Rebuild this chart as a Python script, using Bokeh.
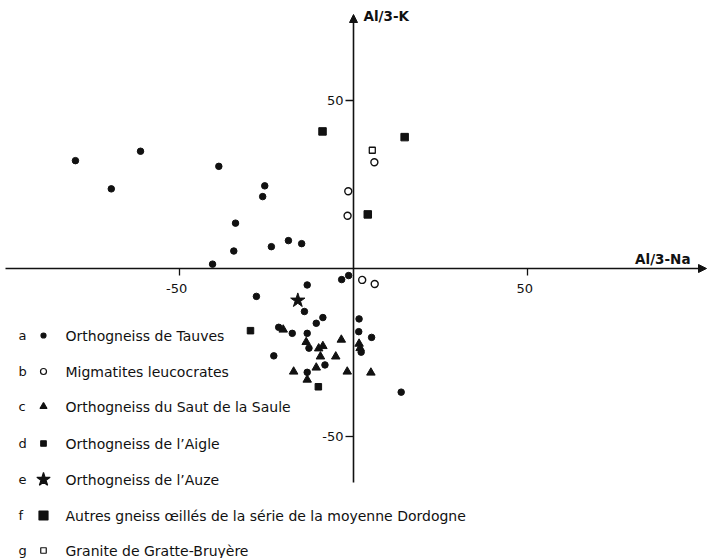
from bokeh.plotting import figure
from bokeh.models import Range1d, Arrow, NormalHead
from bokeh.core.properties import value
from bokeh.embed import file_html
from bokeh.resources import INLINE

# ---------------- data ----------------
# a  Orthogneiss de Tauves (filled circles)
tauves_x = [-79.9, -61.2, -69.6, -38.7, -25.5, -26.1, -33.9, -34.4, -23.6, -18.7, -14.9, -40.5,
            -3.4, -1.4, -13.3, -27.9, -14.1, -8.8, -10.7, -21.5, -17.6, -13.3, -12.8, -22.9,
            -8.2, -13.3, 1.6, 1.5, 5.2, 2.2, 13.7]
tauves_y = [32.1, 34.9, 23.7, 30.4, 24.6, 21.4, 13.5, 5.2, 6.5, 8.3, 7.4, 1.3,
            -3.3, -2.1, -4.9, -8.3, -12.8, -14.6, -16.3, -17.5, -19.3, -19.3, -23.7, -26.0,
            -28.7, -30.9, -15.0, -18.8, -20.5, -24.9, -36.8]
# b  Migmatites leucocrates (open circles)
migm_x = [-1.5, -1.7, 6.0, 2.5, 6.1]
migm_y = [23.0, 15.7, 31.6, -3.4, -4.6]
# c  Orthogneiss du Saut de la Saule (triangles)
saule_x = [-20.2, -13.6, -10.0, -8.8, -9.5, -3.5, -5.1, -10.7, -17.2, -13.3, -1.8, 5.0, 1.6, 1.9]
saule_y = [-18.2, -21.9, -23.8, -23.1, -26.2, -21.2, -26.2, -29.5, -30.7, -33.1, -30.7, -31.0, -22.4, -23.7]
# d  Orthogneiss de l'Aigle
aigle_x = [-29.6, -10.1]
aigle_y = [-18.5, -35.2]
# e  Orthogneiss de l'Auze
auze_x = [-16.0]
auze_y = [-9.5]
# f  Autres gneiss oeillés
autres_x = [-8.9, 14.7, 4.1]
autres_y = [40.8, 39.1, 16.1]
# g  Granite de Gratte-Bruyère
gratte_x = [5.4]
gratte_y = [35.2]

ticks = [-50, 50]
tick_labels = ["-50", "50"]
x_title = "Al/3-Na"
y_title = "Al/3-K"
legend_letters = ["a", "b", "c", "d", "e", "f", "g"]
legend_labels = ["Orthogneiss de Tauves",
                 "Migmatites leucocrates",
                 "Orthogneiss du Saut de la Saule",
                 "Orthogneiss de l\u2019Aigle",
                 "Orthogneiss de l\u2019Auze",
                 "Autres gneiss \u0153ill\u00e9s de la s\u00e9rie de la moyenne Dordogne",
                 "Granite de Gratte-Bruy\u00e8re"]

# ---------------- layout ----------------
W, H = 708, 558
SX, SY = 3.48, 3.36      # px per unit
OX, OY = 353, 268        # origin in canvas px


def cx(px):
    return (px - OX) / SX


def cy(py):
    return (OY - py) / SY


FONT = value("DejaVu Sans")
INK = "#111111"

p = figure(width=W, height=H, output_backend="svg", toolbar_location=None,
           x_range=Range1d(cx(0), cx(W)), y_range=Range1d(cy(H), cy(0)),
           x_axis_type=None, y_axis_type=None, min_border=0,
           outline_line_color=None, background_fill_color="white",
           border_fill_color="white")
p.grid.visible = False

# axes with arrows
p.add_layout(Arrow(end=NormalHead(size=8, fill_color=INK, line_color=INK, line_width=1),
                   x_start=cx(5), y_start=0, x_end=cx(706), y_end=0,
                   line_color=INK, line_width=1.6))
p.add_layout(Arrow(end=NormalHead(size=8, fill_color=INK, line_color=INK, line_width=1),
                   x_start=0, y_start=cy(482), x_end=0, y_end=cy(14),
                   line_color=INK, line_width=1.6))

# ticks
p.segment(x0=ticks, y0=[0] * 2, x1=ticks, y1=[-7 / SY] * 2, line_color=INK, line_width=1.3)
p.segment(x0=[-8 / SX] * 2, y0=ticks, x1=[0] * 2, y1=ticks, line_color=INK, line_width=1.3)
p.text(x=[t - 0.8 for t in ticks], y=[-20 / SY] * 2, text=tick_labels, text_font=FONT,
       text_font_size="13px", text_align="center", text_baseline="middle", text_color=INK)
p.text(x=[-10 / SX] * 2, y=ticks, text=tick_labels, text_font=FONT,
       text_font_size="13px", text_align="right", text_baseline="middle", text_color=INK)

# axis titles
p.text(x=[cx(690)], y=[cy(258)], text=[x_title], text_font=FONT, text_font_size="13.5px",
       text_font_style="bold", text_align="right", text_baseline="middle", text_color=INK)
p.text(x=[cx(363)], y=[cy(15)], text=[y_title], text_font=FONT, text_font_size="13.5px",
       text_font_style="bold", text_align="left", text_baseline="middle", text_color=INK)

# data marks
p.scatter(tauves_x, tauves_y, marker="circle", size=6.5, fill_color=INK, line_color=INK)
p.scatter(migm_x, migm_y, marker="circle", size=7, fill_color="white", line_color=INK, line_width=1.4)
p.scatter(saule_x, saule_y, marker="triangle", size=8.5, fill_color=INK, line_color=INK)
p.scatter(aigle_x, aigle_y, marker="square", size=6.5, fill_color=INK, line_color=INK)
p.scatter(auze_x, auze_y, marker="star", size=15, fill_color=INK, line_color=INK)
p.scatter(autres_x, autres_y, marker="square", size=7.5, fill_color=INK, line_color=INK)
p.scatter(gratte_x, gratte_y, marker="square", size=6, fill_color="white", line_color=INK, line_width=1.3)

# legend (drawn by hand)
row_px = [335, 371, 406, 443, 479, 515, 550]
row_y = [cy(v) for v in row_px]
leg_markers = ["circle", "circle", "triangle", "square", "star", "square", "square"]
leg_fill = [INK, "white", INK, INK, INK, INK, "white"]
leg_size = [5, 6, 7, 5.5, 14, 9, 5.5]
p.text(x=[cx(18)] * 7, y=row_y, text=legend_letters, text_font=FONT, text_font_size="13px",
       text_align="left", text_baseline="middle", text_color=INK)
p.scatter(x=[cx(43)] * 7, y=row_y, marker=leg_markers, size=leg_size, fill_color=leg_fill,
          line_color=INK, line_width=1.2)
p.text(x=[cx(65)] * 7, y=row_y, text=legend_labels, text_font=FONT, text_font_size="14px",
       text_align="left", text_baseline="middle", text_color=INK)

open("out.html", "w").write(file_html(p, INLINE))
